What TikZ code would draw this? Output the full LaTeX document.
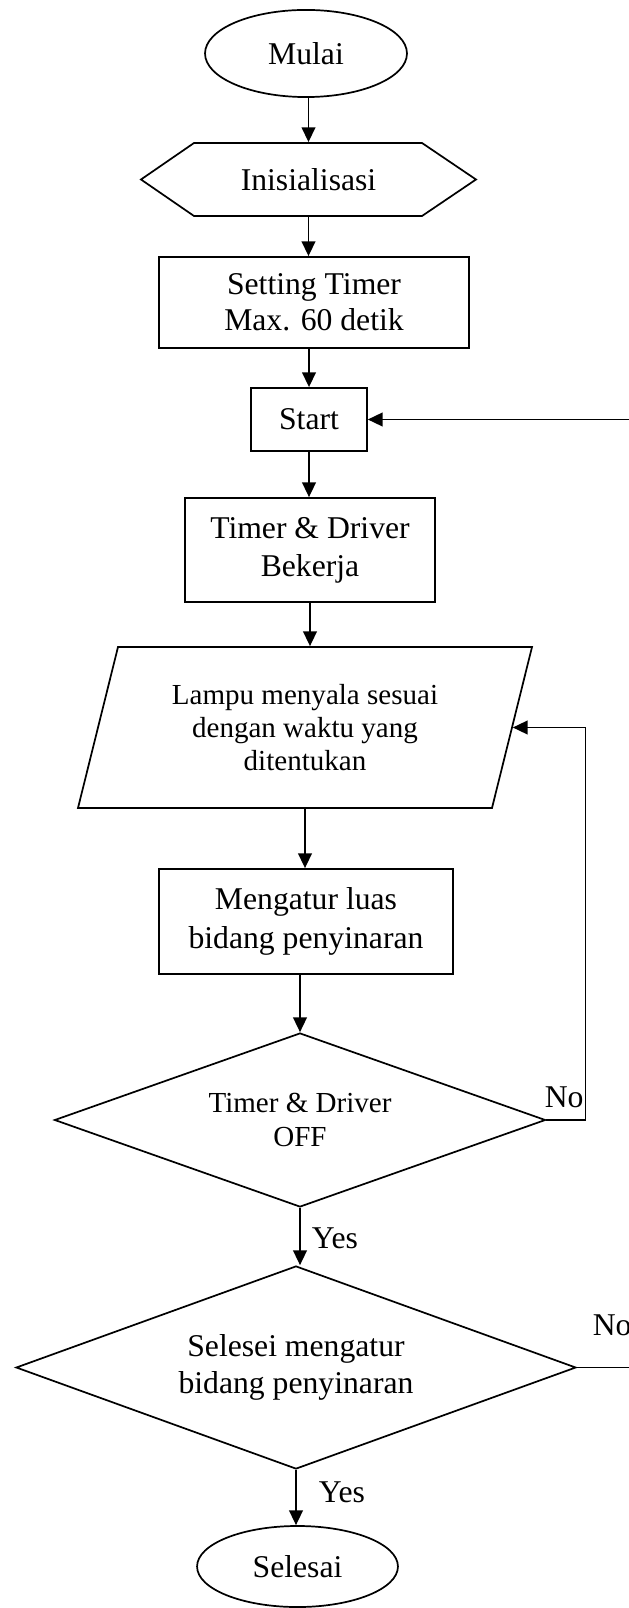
\documentclass[tikz,border=0pt]{standalone}
\usepackage{fontspec}
\setmainfont{Liberation Serif}
\usetikzlibrary{shapes.geometric,arrows.meta}

\begin{document}
\begin{tikzpicture}[x=0.3788pt,y=-0.3788pt,line width=0.65pt,
	fleche/.style={-{Triangle[length=5.6pt,width=5.2pt]}},
	boite/.style={draw,rectangle,align=center,inner sep=0pt,font=\fontsize{12}{13.8}\selectfont},
	terminal/.style={draw,ellipse,inner sep=0pt,font=\fontsize{12}{13.8}\selectfont},
	choix/.style={draw,diamond,aspect=2.8,align=center,inner sep=0pt},
	etiquette/.style={inner sep=0pt,anchor=base west,font=\fontsize{12}{13.8}\selectfont}]
%					Cadre de la page :
					\useasboundingbox (0,0) rectangle (629,1608);
					\clip (0,0) rectangle (629,1608);
%					Tracé des blocs :
					\node[terminal,minimum width=76.5pt,minimum height=33pt] (mulai) at (306,53.5) {Mulai};
					\node[align=center,inner sep=0pt,minimum width=126.9pt,minimum height=27.7pt,font=\fontsize{12}{13.8}\selectfont] (init) at (308.5,179.5) {Inisialisasi};
					\draw (141,179.5) -- (194,143) -- (422,143) -- (476,179.5) -- (422,216) -- (194,216) -- cycle;
					\node[boite,minimum width=117.4pt,minimum height=34.5pt] (setting) at (314,302.5) {Setting Timer\\Max. 60 detik};
					\node[boite,minimum width=43.9pt,minimum height=23.9pt] (start) at (309,419.5) {Start};
					\node[boite,minimum width=94.7pt,minimum height=39.4pt,font=\fontsize{12}{14.4}\selectfont] (timer) at (310,550) {Timer \& Driver\\Bekerja};
					\node[align=center,inner sep=0pt,minimum width=156.8pt,minimum height=61pt,font=\fontsize{11}{12.6}\selectfont] (lampu) at (305,727.5) {Lampu menyala sesuai\\dengan waktu yang\\ditentukan};
					\draw (78,808) -- (118,647) -- (532,647) -- (492,808) -- cycle;
					\node[boite,minimum width=111.4pt,minimum height=39.8pt,font=\fontsize{12}{15}\selectfont] (atur) at (306,921.5) {Mengatur luas\\bidang penyinaran};
					\node[choix,minimum width=186pt,minimum height=65.9pt,font=\fontsize{11}{12.6}\selectfont] (off) at (300,1120) {Timer \& Driver\\OFF};
					\node[choix,minimum width=212.1pt,minimum height=76.9pt,font=\fontsize{12}{13.8}\selectfont] (selesai) at (296,1367.5) {Selesei mengatur\\bidang penyinaran};
					\node[terminal,minimum width=76.1pt,minimum height=30.7pt] (akhir) at (297.5,1566.5) {Selesai};
%					Tracé des flèches :
					\draw[fleche] (init.north |- mulai.south) -- (init.north);
					\draw[fleche] (init.south) -- (init.south |- setting.north);
					\draw[fleche] (start.north |- setting.south) -- (start.north);
					\draw[fleche] (start.south) -- (start.south |- timer.north);
					\draw[fleche] (timer.south) -- (timer.south |- lampu.north);
					\draw[fleche] (lampu.south) -- (lampu.south |- atur.north);
					\draw[fleche] (off.north |- atur.south) -- (off.north);
					\draw[fleche] (off.south) -- (off.south |- selesai.north);
					\draw[fleche] (selesai.south) -- (selesai.south |- akhir.north);
%					Retours :
					\draw[fleche] (off.east) -- ++(39,0) |- (lampu.east);
					\coordinate (rail) at (650,0);
					\draw[fleche] (selesai.east) -- (selesai.east -| rail) |- (start.east);
%					Étiquettes :
					\node[etiquette] (yes1) at (311,1248) {Yes};
					\node[etiquette] (yes2) at (318,1502) {Yes};
					\node[etiquette] (no1) at (544,1107) {No};
					\node[etiquette] (no2) at (592,1335) {No};
				\end{tikzpicture}
\end{document}
